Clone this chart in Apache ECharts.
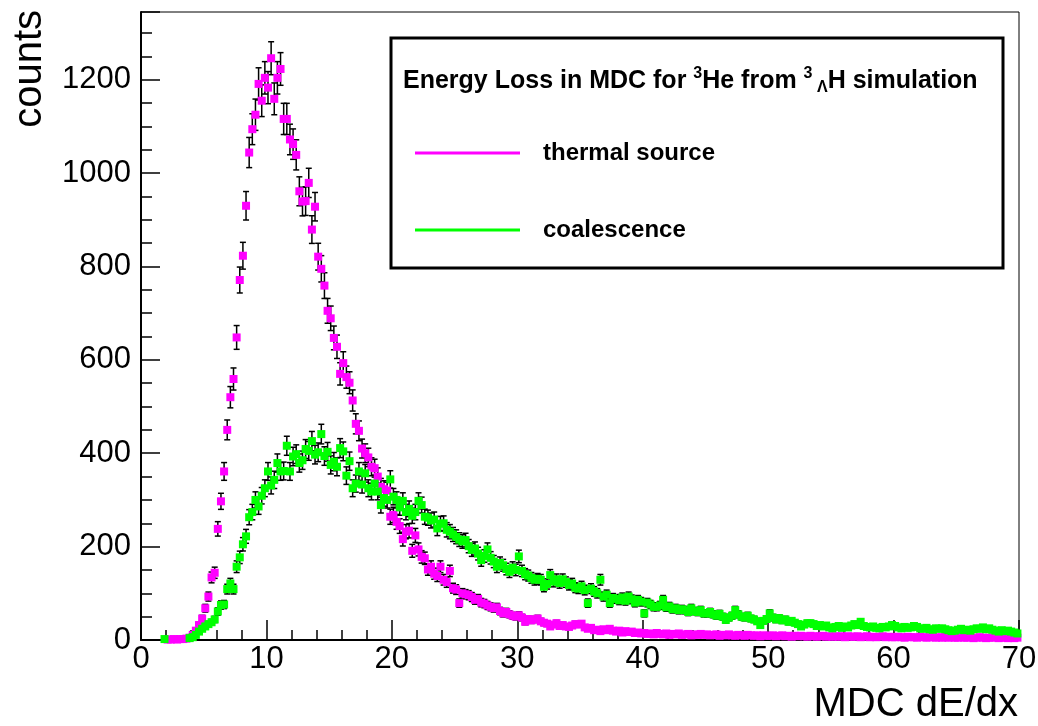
<!DOCTYPE html>
<html lang="en">
<head>
<meta charset="UTF-8">
<title>Energy Loss in MDC</title>
<script src="https://cdn.jsdelivr.net/npm/echarts@6/dist/echarts.min.js"></script>
<style>
    html, body { margin: 0; padding: 0; background: #fff; }
    #chart { width: 1038px; height: 726px; }
</style>
</head>
<body>
<div id="chart"></div>
<script>
    // histogram binning: 280 bins of 0.25 from 0 to 70
    var binWidth = 0.25;
    var xStart = 0;
    var xTicks = [0, 10, 20, 30, 40, 50, 60, 70];
    var yTicks = [0, 200, 400, 600, 800, 1000, 1200];
    var yMax = 1345;

    // counts per bin, 20 bins (5 units of dE/dx) per row, null = empty bin
    var thermal = [
        null,null,null,null,null,null,null,null,1,1,2,1,2,2,3,5,11,20,32,46,
        68,93,134,144,238,297,361,450,520,559,648,771,823,930,1044,1094,1125,1191,1155,1204,
        1183,1246,1159,1204,1223,1116,1116,1072,1062,1039,961,939,940,979,879,928,821,795,759,705,
        689,647,628,570,593,563,551,513,463,448,410,400,391,371,368,350,328,323,320,264,
        268,253,244,216,232,234,191,224,194,178,175,151,157,142,137,157,129,124,148,111,
        108,79,100,98,96,92,86,88,80,78,74,71,68,70,62,57,60,55,52,50,
        53,48,39,45,42,44,46,40,37,35,29,33,36,30,32,29,28,31,34,33,
        35,27,24,26,21,22,19,23,21,24,20,18,20,16,19,17,18,15,16,14,
        15,13,14,12,15,13,12,14,11,13,12,14,11,12,13,10,12,11,13,11,
        12,10,11,12,9,11,10,12,10,9,11,10,9,11,10,9,10,8,10,9,
        9,10,8,9,10,8,9,7,9,8,9,8,7,9,8,7,8,9,7,8,
        7,8,7,8,6,8,7,7,8,6,7,8,6,7,6,7,8,6,7,6,
        6,7,6,5,7,6,6,5,7,6,5,6,6,5,6,5,6,5,6,5,
        5,6,5,5,6,4,5,6,5,4,5,5,6,4,5,5,4,5,4,5
    ];
    var coalescence = [
        null,null,null,null,null,null,null,2,null,null,null,null,null,null,null,4,6,11,18,24,
        29,34,38,44,61,75,76,109,121,109,157,177,205,222,263,274,300,286,309,325,
        361,331,343,379,361,362,416,361,393,398,379,385,409,405,426,397,402,441,394,403,
        375,382,371,411,404,352,383,325,335,361,333,357,325,318,335,318,289,304,300,344,
        307,300,284,298,274,281,266,274,298,289,264,262,256,258,239,249,250,236,232,226,
        221,215,211,214,201,193,196,185,171,180,194,176,168,157,165,160,152,146,155,150,
        179,148,141,138,133,129,131,129,114,120,139,125,130,122,130,124,118,121,112,110,
        115,107,79,110,104,100,129,93,97,79,90,88,85,91,84,93,87,80,86,82,
        57,80,76,71,71,74,86,70,72,66,68,64,66,64,60,68,62,60,64,57,
        57,60,55,52,56,50,43,48,52,64,55,50,48,52,46,44,40,32,41,45,
        57,48,44,47,42,44,39,41,37,34,29,33,36,36,34,30,32,29,31,27,
        25,28,30,26,29,27,31,34,32,39,30,28,27,29,26,25,28,27,29,32,
        30,27,25,28,26,27,30,28,25,24,26,23,22,25,24,25,23,21,19,20,
        22,24,21,22,20,23,25,24,27,23,25,22,20,18,21,19,20,18,16,14
    ];

    var font = 'Liberation Sans, Arial, Helvetica, sans-serif';

    // [bin centre, counts, poisson error] like ROOT's default histogram errors
    function toPoints(counts) {
        var pts = [];
        counts.forEach(function (n, i) {
            if (n === null) return;
            pts.push([xStart + (i + 0.5) * binWidth, n, Math.sqrt(n)]);
        });
        return pts;
    }

    function errorBars(params, api) {
        var x = api.value(0), y = api.value(1), e = api.value(2);
        var hi = api.coord([x, y + e]);
        var lo = api.coord([x, Math.max(y - e, 0)]);
        var c = hi[0];
        var st = { stroke: '#000', lineWidth: 1.5 };
        return {
            type: 'group',
            children: [
                { type: 'line', shape: { x1: c, y1: hi[1], x2: c, y2: lo[1] }, style: st },
                { type: 'line', shape: { x1: c - 3, y1: hi[1], x2: c + 3, y2: hi[1] }, style: st },
                { type: 'line', shape: { x1: c - 3, y1: lo[1], x2: c + 3, y2: lo[1] }, style: st }
            ]
        };
    }

    var thermalPts = toPoints(thermal);
    var coalPts = toPoints(coalescence);

    var myChart = echarts.init(document.getElementById('chart'), null, { renderer: 'canvas' });

    var option = {
        animation: false,
        backgroundColor: '#fff',
        grid: {
            left: 141, right: 19, top: 12, bottom: 86,
            show: true, borderColor: '#000', borderWidth: 1,
            outerBoundsMode: 'none'
        },
        xAxis: [{
            type: 'value',
            min: xTicks[0], max: xTicks[xTicks.length - 1], interval: 10,
            axisLine: { lineStyle: { color: '#000', width: 2 } },
            axisTick: { inside: true, length: 20, lineStyle: { color: '#000', width: 1.5 } },
            axisLabel: { color: '#000', fontFamily: font, fontSize: 31, margin: 4 },
            splitLine: { show: false }
        }, {
            // minor ticks every 2
            type: 'value', position: 'bottom',
            min: xTicks[0], max: xTicks[xTicks.length - 1], interval: 2,
            axisLine: { show: false },
            axisTick: { inside: true, length: 10, lineStyle: { color: '#000', width: 1.5 } },
            axisLabel: { show: false },
            splitLine: { show: false }
        }],
        yAxis: [{
            type: 'value',
            min: yTicks[0], max: yMax, interval: 200,
            axisLine: { show: true, lineStyle: { color: '#000', width: 2 } },
            axisTick: { show: true, inside: true, length: 19, lineStyle: { color: '#000', width: 1.5 } },
            axisLabel: {
                color: '#000', fontFamily: font, fontSize: 31, margin: 10,
                formatter: function (v) { return yTicks.indexOf(v) >= 0 ? String(v) : ''; }
            },
            splitLine: { show: false }
        }, {
            // minor ticks every 50
            type: 'value', position: 'left',
            min: yTicks[0], max: yMax, interval: 50,
            axisLine: { show: false },
            axisTick: { show: true, inside: true, length: 11, lineStyle: { color: '#000', width: 1.5 } },
            axisLabel: { show: false },
            splitLine: { show: false }
        }],
        legend: {
            data: ['thermal source', 'coalescence'],
            orient: 'vertical',
            left: 415, top: 141,
            padding: 0,
            itemGap: 53,
            itemWidth: 105, itemHeight: 3,
            icon: 'rect',
            selectedMode: false,
            z: 12,
            textStyle: {
                color: '#000', fontFamily: font, fontWeight: 'bold', fontSize: 24,
                lineHeight: 24, padding: [0, 0, 0, 18]
            }
        },
        graphic: [{
            type: 'rect', z: 10,
            shape: { x: 391, y: 38, width: 612, height: 230 },
            style: { fill: '#fff', stroke: '#000', lineWidth: 3 }
        }, {
            type: 'text', z: 12, x: 403, y: 81,
            style: {
                text: '{n|Energy Loss in MDC for }{sup|3}{n|He from }{sup|3 }{sub|\u039B}{n|H simulation}',
                verticalAlign: 'middle',
                rich: {
                    n: { fontFamily: font, fontWeight: 'bold', fontSize: 25, lineHeight: 30, verticalAlign: 'middle', fill: '#000' },
                    sup: { fontFamily: font, fontWeight: 'bold', fontSize: 16, lineHeight: 16, verticalAlign: 'top', fill: '#000' },
                    sub: { fontFamily: font, fontWeight: 'bold', fontSize: 16, lineHeight: 16, verticalAlign: 'bottom', fill: '#000' }
                }
            }
        }, {
            type: 'text', x: 30, y: 10, rotation: Math.PI / 2,
            style: {
                text: 'counts', fill: '#000', font: '40px ' + font,
                align: 'right', verticalAlign: 'middle'
            }
        }, {
            type: 'text', x: 1018, y: 705,
            style: {
                text: 'MDC dE/dx', fill: '#000', font: '40px ' + font,
                align: 'right', verticalAlign: 'middle'
            }
        }],
        series: [{
            type: 'custom', name: 'thermal errors',
            renderItem: errorBars, data: thermalPts, silent: true
        }, {
            type: 'scatter', name: 'thermal source',
            data: thermalPts, symbol: 'rect', symbolSize: 8,
            itemStyle: { color: '#ff00ff', opacity: 1 },
            emphasis: { disabled: true }
        }, {
            type: 'custom', name: 'coalescence errors',
            renderItem: errorBars, data: coalPts, silent: true
        }, {
            type: 'scatter', name: 'coalescence',
            data: coalPts, symbol: 'rect', symbolSize: 8,
            itemStyle: { color: '#00ff00', opacity: 1 },
            emphasis: { disabled: true }
        }]
    };

    myChart.setOption(option);
</script>
</body>
</html>
